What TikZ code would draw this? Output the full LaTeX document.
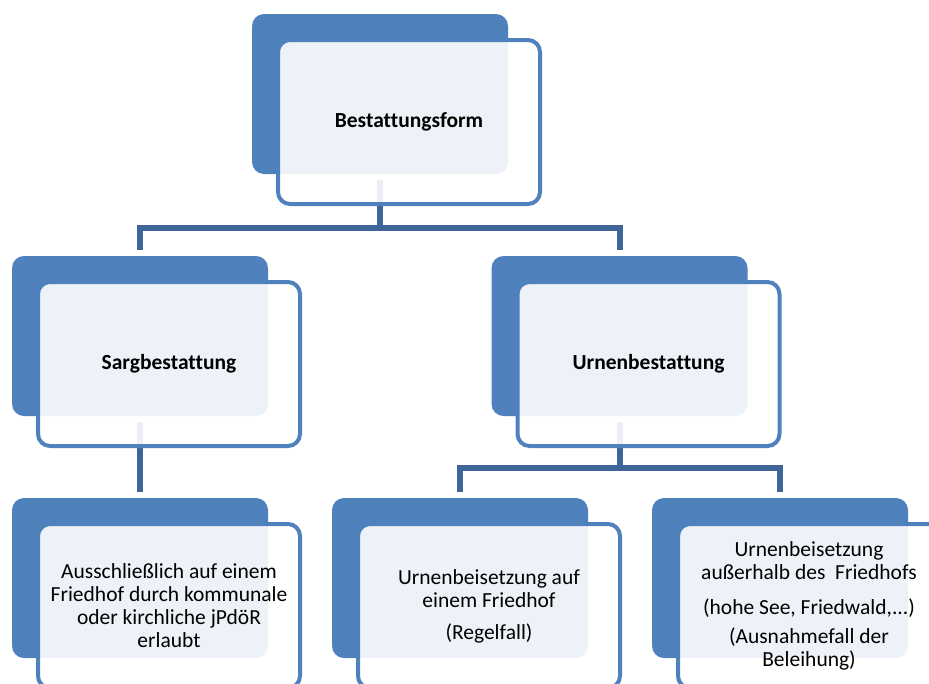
\documentclass[tikz,border=0pt]{standalone}
\usepackage{fontspec}
\setmainfont{Carlito}[Ligatures=NoCommon]
\usetikzlibrary{positioning}
\definecolor{boxBlue}{HTML}{4F81BD}
\definecolor{lineBlue}{HTML}{3D6598}

\begin{document}
\begin{tikzpicture}[x=1pt, y=-1pt,
  backBox/.style={fill=boxBlue, rounded corners=12pt, minimum width=256pt,
    minimum height=160pt, inner sep=0pt, outer sep=0pt},
  frontBox/.style={draw=boxBlue, line width=4pt, fill=white, fill opacity=0.9,
    text opacity=1, rounded corners=12pt, minimum width=262pt,
    minimum height=164pt, outer sep=0pt, align=center,
    font=\fontsize{21.5}{23}\selectfont},
  hierLine/.style={draw=lineBlue, line width=6pt}]
  \useasboundingbox (0,0) rectangle (929,683);
  % back boxes
  \node[backBox] (formBack) at (380,94) {};
  \node[backBox] (sargBack) at (140,336) {};
  \node[backBox] (urneBack) at (619.5,336) {};
  \node[backBox] (kommunalBack) at (140,578) {};
  \node[backBox] (regelfallBack) at (460,578) {};
  \node[backBox] (ausnahmeBack) at (780,578) {};
  % connectors
  \draw[hierLine] ([yshift=-6pt]formBack.south) -- ++(0,48) -| ([yshift=6pt]sargBack.north);
  \draw[hierLine] ([yshift=-6pt]formBack.south) -- ++(0,48) -| ([yshift=6pt]urneBack.north);
  \draw[hierLine] ([yshift=-6pt]sargBack.south) -- ([yshift=6pt]kommunalBack.north);
  \draw[hierLine] ([yshift=-6pt]urneBack.south) -- ++(0,46) -| ([yshift=6pt]regelfallBack.north);
  \draw[hierLine] ([yshift=-6pt]urneBack.south) -- ++(0,46) -| ([yshift=6pt]ausnahmeBack.north);
  % front boxes
  \node[frontBox, below right=26pt and 26pt of formBack.north west] (form)
    {\textbf{Bestattungsform}};
  \node[frontBox, below right=26pt and 26pt of sargBack.north west] (sarg)
    {\textbf{Sargbestattung}};
  \node[frontBox, below right=26pt and 26pt of urneBack.north west] (urne)
    {\textbf{Urnenbestattung}};
  \node[frontBox, below right=26pt and 26pt of kommunalBack.north west] (kommunal)
    {Ausschließlich auf einem\\Friedhof durch kommunale\\oder kirchliche jPdöR\\erlaubt};
  \node[frontBox, below right=26pt and 26pt of regelfallBack.north west] (regelfall)
    {Urnenbeisetzung auf\\einem Friedhof\\[9pt](Regelfall)};
  \node[frontBox, below right=26pt and 26pt of ausnahmeBack.north west] (ausnahme)
    {Urnenbeisetzung\\außerhalb des~ Friedhofs\\[12pt](hohe See, Friedwald,...)\\[6pt](Ausnahmefall der\\Beleihung)};
\end{tikzpicture}
\end{document}
